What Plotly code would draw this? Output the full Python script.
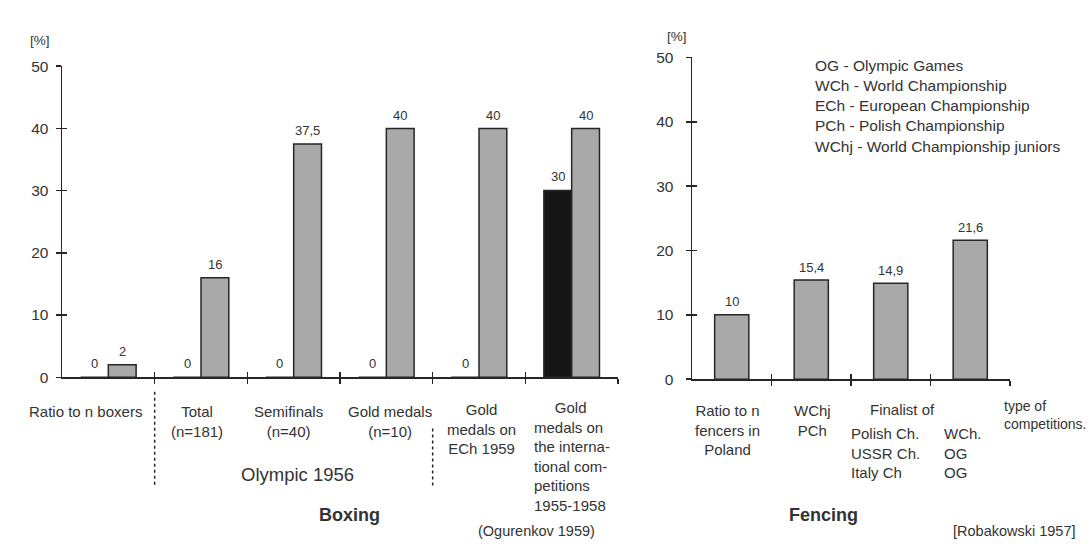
import plotly.graph_objects as go

# ---------------- data ----------------
boxing_labels = ["Ratio to n boxers", "Total<br>(n=181)", "Semifinals<br>(n=40)",
                 "Gold medals<br>(n=10)", "Gold<br>medals on<br>ECh 1959",
                 "\u00a0\u00a0\u00a0\u00a0\u00a0Gold<br>medals on<br>the interna-<br>tional com-<br>petitions<br>1955-1958"]
boxing_black = [0, 0, 0, 0, 0, 30]
boxing_gray = [2, 16, 37.5, 40, 40, 40]

fencing_labels = ["Ratio to n<br>fencers in<br>Poland", "WChj<br>PCh",
                  "Polish Ch.<br>USSR Ch.<br>Italy Ch", "WCh.<br>OG<br>OG"]
fencing_values = [10, 15.4, 14.9, 21.6]

y_ticks = [0, 10, 20, 30, 40, 50]

legend_lines = ["OG - Olympic Games", "WCh - World Championship",
                "ECh - European Championship", "PCh - Polish Championship",
                "WChj - World Championship juniors"]

W, H = 1090, 550
def px(x): return x / W
def py(y): return 1 - y / H

TXT = "#333333"
FONT = "Liberation Sans, Arial, sans-serif"
GRAY = "#a9a9a9"
EDGE = "#262626"
FS = 15

def fmt(v):
    return f"{v:g}".replace(".", ",")

fig = go.Figure()

BW = 0.3      # boxing bar width (category units)
FW = 0.43     # fencing bar width

bx = list(range(len(boxing_gray)))
fig.add_trace(go.Bar(x=bx, y=boxing_black, width=BW, offset=-BW,
                     marker=dict(color="#161616", line=dict(color=EDGE, width=1.5)),
                     showlegend=False, hoverinfo="skip", xaxis="x", yaxis="y"))
fig.add_trace(go.Bar(x=bx, y=boxing_gray, width=BW, offset=0,
                     marker=dict(color=GRAY, line=dict(color=EDGE, width=1.5)),
                     showlegend=False, hoverinfo="skip", xaxis="x", yaxis="y"))

fx = list(range(len(fencing_values)))
fig.add_trace(go.Bar(x=fx, y=fencing_values, width=FW, offset=-FW / 2,
                     marker=dict(color=GRAY, line=dict(color=EDGE, width=1.5)),
                     showlegend=False, hoverinfo="skip", xaxis="x2", yaxis="y2"))

# empty traces on overlay axes (ticks crossing the axis lines)
fig.add_trace(go.Scatter(x=[], y=[], xaxis="x3", yaxis="y3", showlegend=False, hoverinfo="skip"))
fig.add_trace(go.Scatter(x=[], y=[], xaxis="x4", yaxis="y4", showlegend=False, hoverinfo="skip"))

box_bounds = [i + 0.5 for i in bx]
fen_bounds = [i + 0.5 for i in fx]

axis_common = dict(showgrid=False, zeroline=False, fixedrange=True)
ax_line = dict(showline=True, linecolor=EDGE, linewidth=1.5)
tk = dict(tickwidth=1.5, tickcolor=EDGE)

left_xd = [px(62), px(618)]
left_yd = [py(380), py(59)]
right_xd = [px(692), px(1010)]
right_yd = [py(382), py(50)]

fig.update_layout(
    width=W, height=H, margin=dict(l=0, r=0, t=0, b=0),
    paper_bgcolor="white", plot_bgcolor="white",
    font=dict(family=FONT, size=FS, color=TXT),
    xaxis=dict(domain=left_xd, range=[-0.5, 5.5], anchor="y", tickvals=box_bounds,
               showticklabels=False, ticks="outside", ticklen=5, **tk, **ax_line, **axis_common),
    yaxis=dict(domain=left_yd, range=[0, 50], anchor="x", tickvals=y_ticks,
               ticks="outside", ticklen=5, **tk, tickfont=dict(size=15.5, color=TXT),
               ticklabelstandoff=4, **ax_line, **axis_common),
    xaxis2=dict(domain=right_xd, range=[-0.5, 3.5], anchor="y2", tickvals=fen_bounds,
                showticklabels=False, ticks="outside", ticklen=5, **tk, **ax_line, **axis_common),
    yaxis2=dict(domain=right_yd, range=[0, 50], anchor="x2", tickvals=y_ticks,
                ticks="outside", ticklen=5, **tk, tickfont=dict(size=15.5, color=TXT),
                ticklabelstandoff=9, **ax_line, **axis_common),
    xaxis3=dict(overlaying="x", anchor="y", range=[-0.5, 5.5], tickvals=box_bounds,
                showticklabels=False, ticks="inside", ticklen=5, **tk,
                showline=False, **axis_common),
    yaxis3=dict(overlaying="y", anchor="x", range=[0, 50], tickvals=y_ticks,
                showticklabels=False, ticks="inside", ticklen=5, **tk,
                showline=False, **axis_common),
    xaxis4=dict(overlaying="x2", anchor="y2", range=[-0.5, 3.5], tickvals=fen_bounds,
                showticklabels=False, ticks="inside", ticklen=5, **tk,
                showline=False, **axis_common),
    yaxis4=dict(overlaying="y2", anchor="x2", range=[0, 50], tickvals=y_ticks,
                showticklabels=False, ticks="inside", ticklen=5, **tk,
                showline=False, **axis_common),
)

ann = []
def A(text, x, y, xref="paper", yref="paper", size=FS, xanchor="center",
      yanchor="middle", align="center", bold=False, yshift=0):
    if bold:
        text = f"<b>{text}</b>"
    ann.append(dict(text=text, x=x, y=y, xref=xref, yref=yref, showarrow=False,
                    xanchor=xanchor, yanchor=yanchor, align=align, yshift=yshift,
                    font=dict(size=size, color=TXT, family=FONT)))

# value labels above the bars (from the data arrays)
for i, v in enumerate(boxing_black):
    A(fmt(v), i - BW / 2, v, xref="x", yref="y", size=13, yshift=14)
for i, v in enumerate(boxing_gray):
    A(fmt(v), i + BW / 2, v, xref="x", yref="y", size=13, yshift=13)
for i, v in enumerate(fencing_values):
    A(fmt(v), i, v, xref="x2", yref="y2", size=13, yshift=13)

# Boxing category labels (under each group)
box_shift = [-0.25, -0.04, -0.06, 0.04, 0.03, -0.5]
box_top = [405, 405, 405, 405, 402, 400]
for i, lab in enumerate(boxing_labels):
    if i == len(boxing_labels) - 1:
        A(lab, i - 0.43, py(box_top[i]), xref="x", xanchor="left", yanchor="top", align="left")
    else:
        A(lab, i + box_shift[i], py(box_top[i]), xref="x", yanchor="top")

# Fencing category labels
A(fencing_labels[0], 0 - 0.05, py(403), xref="x2", yanchor="top")
A(fencing_labels[1], 1 + 0.01, py(403), xref="x2", yanchor="top")
A(fencing_labels[2], 2 - 0.52, py(427), xref="x2", xanchor="left", yanchor="top", align="left")
A(fencing_labels[3], 3 - 0.35, py(427), xref="x2", xanchor="left", yanchor="top", align="left")
A("Finalist of", px(902), py(413))
A("type of<br>competitions.", px(1002), py(399), xanchor="left", yanchor="top",
  align="left", size=14)

# axis unit labels
A("[%]", px(40), py(33), size=13.5)
A("[%]", px(677), py(28), size=13.5)

# legend text block
A("<br>".join(legend_lines), px(813), py(47), xanchor="left", yanchor="top",
  align="left", size=15.5)

# group titles & sources
A("Olympic 1956", px(297), py(480), size=18.5)
A("Boxing", px(349), py(522), size=18, bold=True)
A("Fencing", px(823), py(522), size=18, bold=True)
A("(Ogurenkov 1959)", px(536), py(549), size=14.5, yanchor="bottom")
A("[Robakowski 1957]", px(1014), py(549), size=14.5, yanchor="bottom")

fig.update_layout(annotations=ann)

# dotted separators below the boxing axis
fig.add_shape(type="line", xref="x", yref="paper", x0=0.5, x1=0.5, y0=py(395), y1=py(493),
              line=dict(color=EDGE, width=1.5, dash="dot"))
fig.add_shape(type="line", xref="x", yref="paper", x0=3.5, x1=3.5, y0=py(433), y1=py(493),
              line=dict(color=EDGE, width=1.5, dash="dot"))

fig.write_html("out.html", config={"displayModeBar": False, "staticPlot": True},
               post_script="document.body.style.margin='0';document.body.style.overflow='hidden';")
